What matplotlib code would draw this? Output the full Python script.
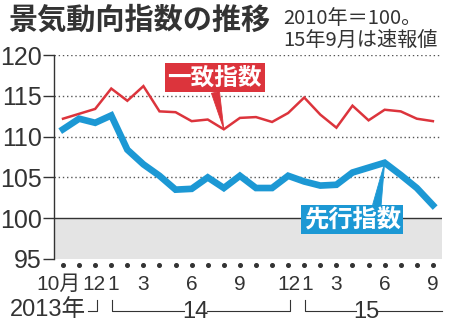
import matplotlib
matplotlib.use("Agg")
import matplotlib.pyplot as plt
import matplotlib.transforms as mtransforms

# 2013年10月 - 2015年9月 (monthly, 2010 = 100)
months = list(range(24))
coincident = [112.2, 112.8, 113.4, 115.9, 114.4, 116.2, 113.1, 113.0, 111.9, 112.1, 110.9, 112.3,
              112.4, 111.8, 112.9, 114.8, 112.7, 111.1, 113.8, 112.0, 113.3, 113.1, 112.2, 111.9]
leading = [110.9, 112.2, 111.7, 112.6, 108.4, 106.6, 105.2, 103.5, 103.6, 105.0, 103.7, 105.2,
           103.7, 103.7, 105.2, 104.5, 104.0, 104.1, 105.6, 106.2, 106.8, 105.3, 103.7, 101.6]
month_labels = {0: "10月", 2: "12", 3: "1", 5: "3", 8: "6", 11: "9",
                14: "12", 15: "1", 17: "3", 20: "6", 23: "9"}
yticks = [95, 100, 105, 110, 115, 120]

RED = "#dc343c"
BLUE = "#1c98d4"
DARK = "#333333"
NUM_FONT = ["Liberation Sans Narrow", "Liberation Sans", "DejaVu Sans"]
JP_FONT = ["Noto Sans CJK JP", "DejaVu Sans"]
MIX_FONT = NUM_FONT + ["Noto Sans CJK JP"]

fig = plt.figure(figsize=(4.5, 3.32), dpi=100)
ax = fig.add_axes([0.12, 0.22, 0.862, 0.614])
xmin, xmax = -0.56, 23.56
ax.set_xlim(xmin, xmax)
ax.set_ylim(95, 120)

# shaded area below 100
ax.axhspan(95, 100, color="#e4e4e4", lw=0, zorder=0)
ax.axhline(100, color=DARK, lw=1.0, zorder=1)
for v in [105, 110, 115, 120]:
    ax.axhline(v, color="#555555", lw=1.0, ls=(0, (1, 2)), zorder=1)

ax.plot(months, coincident, color=RED, lw=1.8, zorder=3, solid_joinstyle="miter")
ax.plot(months, leading, color=BLUE, lw=4.8, zorder=3, solid_joinstyle="miter")

# spines / ticks
for s in ["top", "right", "bottom"]:
    ax.spines[s].set_visible(False)
ax.spines["left"].set_color(DARK)
ax.spines["left"].set_linewidth(1.0)
ax.set_yticks(yticks)
ax.set_yticklabels([str(v) for v in yticks], family=NUM_FONT, fontsize=18, color=DARK)
ax.tick_params(axis="y", length=8, width=1.0, color=DARK, pad=1)
ax.set_xticks([])

# month dots and labels under the axis
trans = mtransforms.blended_transform_factory(ax.transData, ax.transAxes)
ax.plot(months, [-0.03] * len(months), ls="none", marker="o", ms=2.6, color=DARK,
        transform=trans, clip_on=False)
shift = {0: -0.25, 2: -0.08, 3: 0.12, 14: 0.05, 15: 0.2}
for m, lab in month_labels.items():
    ax.text(m + shift.get(m, 0), -0.152, lab, transform=trans, ha="center", va="baseline",
            fontsize=15, color=DARK, family=MIX_FONT)

# year row with brackets
yb = -0.255
yt = -0.2
ax.text(1.45, -0.282, "2013年", transform=trans, ha="right", va="baseline", fontsize=17,
        color=DARK, family=MIX_FONT)
ax.plot([1.55, 2.1, 2.1], [yb, yb, yt], color=DARK, lw=0.8, transform=trans, clip_on=False)
ax.plot([3.05, 3.05, 7.5], [yt, yb, yb], color=DARK, lw=0.8, transform=trans, clip_on=False)
ax.text(8.2, -0.289, "14", transform=trans, ha="center", va="baseline", fontsize=17,
        color=DARK, family=NUM_FONT)
ax.plot([8.95, 14.1, 14.1], [yb, yb, yt], color=DARK, lw=0.8, transform=trans, clip_on=False)
ax.plot([15.05, 15.05, 18.2], [yt, yb, yb], color=DARK, lw=0.8, transform=trans, clip_on=False)
ax.text(18.85, -0.289, "15", transform=trans, ha="center", va="baseline", fontsize=17,
        color=DARK, family=NUM_FONT)
ax.plot([19.55, xmax], [yb, yb], color=DARK, lw=0.8, transform=trans, clip_on=False)

# series labels with pointers
ax.annotate("一致指数", xy=(10, coincident[10]), xytext=(9.44, 117.25),
            ha="center", va="center", fontsize=17, fontweight="bold", color="white",
            family=JP_FONT, zorder=5,
            bbox=dict(boxstyle="square,pad=0.12", fc=RED, ec="none"),
            arrowprops=dict(arrowstyle="wedge,tail_width=0.35", fc=RED, ec=RED, lw=0.6,
                            shrinkA=0, shrinkB=0, relpos=(0.5, 0.0)))
ax.annotate("先行指数", xy=(20, leading[20]), xytext=(17.98, 99.8),
            ha="center", va="center", fontsize=17.5, fontweight="bold", color="white",
            family=JP_FONT, zorder=5,
            bbox=dict(boxstyle="square,pad=0.1", fc=BLUE, ec="none"),
            arrowprops=dict(arrowstyle="wedge,tail_width=0.35", fc=BLUE, ec=BLUE, lw=0.6,
                            shrinkA=0, shrinkB=0, relpos=(0.75, 1.0)))

# titles
fig.text(8 / 450, 1 - 20 / 332, "景気動向指数の推移", ha="left", va="center",
         fontsize=21, fontweight="bold", color=DARK, family=JP_FONT)
fig.text(283 / 450, 1 - 19 / 332, "2010年＝100。", ha="left", va="center",
         fontsize=14.5, color=DARK, family=JP_FONT)
fig.text(283 / 450, 1 - 40 / 332, "15年9月は速報値", ha="left", va="center",
         fontsize=14.5, color=DARK, family=JP_FONT)

fig.savefig("out.png", dpi=100)
